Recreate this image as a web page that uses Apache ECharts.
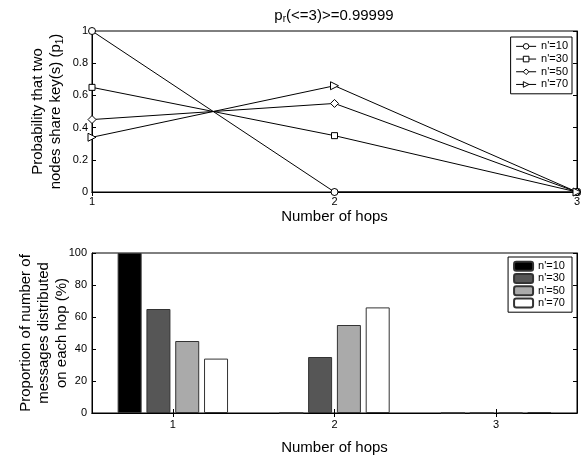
<!DOCTYPE html>
<html><head><meta charset="utf-8">
<script src="https://cdn.jsdelivr.net/npm/echarts@6/dist/echarts.min.js"></script>
<style>html,body{margin:0;padding:0;background:#fff}#c{width:587px;height:459px}</style>
</head><body><div id="c"></div>
<script>
const hops = [1, 2, 3];
const hopLabels = ['1', '2', '3'];
const seriesNames = ["n'=10", "n'=30", "n'=50", "n'=70"];
// top: probability p1
const p10 = [1.0, 0.0, 0.0];
const p30 = [0.65, 0.35, 0.0];
const p50 = [0.45, 0.55, 0.0];
const p70 = [0.34, 0.66, 0.0];
// bottom: proportion (%)
const q10 = [100, 0, 0];
const q30 = [65, 35, 0];
const q50 = [45, 55, 0];
const q70 = [34, 66, 0.5];

const FONT = 'Liberation Sans';
const chart = echarts.init(document.getElementById('c'), null, {renderer: 'canvas'});
const lineVals = [p10, p30, p50, p70];
const barVals = [q10, q30, q50, q70];
const symbols = ['circle', 'rect', 'diamond', 'triangle'];
const symRot = [0, 0, 0, -90];
const symSize = [7, 6, 8, 8];
const barColors = ['#000000', '#565656', '#aaaaaa', '#ffffff'];

const axisLineStyle = {show: true, lineStyle: {color: '#000', width: 1}};
const tickStyle = {show: true, inside: true, length: 4, lineStyle: {color: '#000'}};
const labelStyle = {color: '#000', fontFamily: FONT, fontSize: 11};
const subRich = {sub: {fontFamily: FONT, fontSize: 10, verticalAlign: 'bottom', padding: [7, 0, 0, 0]}};

const series = [];
lineVals.forEach((v, i) => {
  series.push({
    type: 'line', name: seriesNames[i], xAxisIndex: 0, yAxisIndex: 0,
    data: hops.map((h, j) => [h, v[j]]),
    symbol: symbols[i], symbolSize: symSize[i], symbolRotate: symRot[i],
    lineStyle: {color: '#000', width: 1},
    itemStyle: {color: '#fff', borderColor: '#000', borderWidth: 1},
    z: 3
  });
});
barVals.forEach((v, i) => {
  series.push({
    type: 'bar', name: seriesNames[i] + ' ', xAxisIndex: 2, yAxisIndex: 2,
    data: v, barWidth: 24, barGap: '20%',
    itemStyle: {color: barColors[i], borderColor: '#333', borderWidth: 1}
  });
});

chart.setOption({
  animation: false,
  backgroundColor: '#fff',
  title: {
    text: 'p{sub|r}(<=3)>=0.99999', left: 329, textAlign: 'center', top: 2,
    textStyle: {fontFamily: FONT, fontSize: 15, fontWeight: 'normal', color: '#000', rich: subRich}
  },
  grid: [
    {left: 92, right: 10, top: 31, height: 161, show: true, borderColor: '#000', borderWidth: 1, outerBoundsMode: 'none', containLabel: false},
    {left: 92, right: 10, top: 253, height: 160, show: true, borderColor: '#000', borderWidth: 1, outerBoundsMode: 'none', containLabel: false}
  ],
  legend: [
    {data: seriesNames, right: 15, top: 37, orient: 'vertical', itemGap: 0, itemWidth: 20, itemHeight: 7,
      borderColor: '#000', borderWidth: 1, padding: [3, 4, 3, 5], backgroundColor: '#fff',
      lineStyle: {width: 1, color: '#000'},
      itemStyle: {color: '#fff', borderColor: '#000', borderWidth: 1},
      textStyle: {fontFamily: FONT, fontSize: 11, color: '#000', lineHeight: 12.7}},
    {data: seriesNames.map(s => s + ' '), right: 15, top: 257, orient: 'vertical', itemGap: 0, itemWidth: 19, itemHeight: 9,
      borderColor: '#000', borderWidth: 1, padding: [3, 4, 3, 5], backgroundColor: '#fff',
      textStyle: {fontFamily: FONT, fontSize: 11, color: '#000', lineHeight: 12.3}}
  ],
  xAxis: [
    {type: 'value', gridIndex: 0, min: 1, max: 3, interval: 1, position: 'bottom',
      axisLine: axisLineStyle, axisTick: tickStyle, axisLabel: Object.assign({margin: 4, formatter: v => hopLabels[v - 1]}, labelStyle),
      splitLine: {show: false},
      name: 'Number of hops', nameLocation: 'middle', nameGap: 17, nameMoveOverlap: false,
      nameTextStyle: {fontFamily: FONT, fontSize: 15, color: '#000'}},
    {type: 'value', gridIndex: 0, min: 1, max: 3, interval: 1, position: 'top',
      axisLine: axisLineStyle, axisTick: tickStyle, axisLabel: {show: false}, splitLine: {show: false}},
    {type: 'category', gridIndex: 1, data: hopLabels, position: 'bottom',
      axisLine: axisLineStyle, axisTick: Object.assign({alignWithLabel: true}, tickStyle),
      axisLabel: Object.assign({margin: 6}, labelStyle),
      name: 'Number of hops', nameLocation: 'middle', nameGap: 27, nameMoveOverlap: false,
      nameTextStyle: {fontFamily: FONT, fontSize: 15, color: '#000'}},
    {type: 'category', gridIndex: 1, data: hopLabels, position: 'top',
      axisLine: axisLineStyle, axisTick: Object.assign({alignWithLabel: true}, tickStyle), axisLabel: {show: false}}
  ],
  yAxis: [
    {type: 'value', gridIndex: 0, min: 0, max: 1, interval: 0.2, position: 'left',
      axisLine: axisLineStyle, axisTick: tickStyle, axisLabel: Object.assign({margin: 4}, labelStyle),
      splitLine: {show: false},
      name: 'Probability that two\nnodes share key(s) (p{sub|1})', nameLocation: 'middle', nameGap: 27, nameRotate: 90, nameMoveOverlap: false,
      nameTextStyle: {fontFamily: FONT, fontSize: 15, color: '#000', lineHeight: 18, rich: subRich}},
    {type: 'value', gridIndex: 0, min: 0, max: 1, interval: 0.2, position: 'right',
      axisLine: axisLineStyle, axisTick: tickStyle, axisLabel: {show: false}, splitLine: {show: false}},
    {type: 'value', gridIndex: 1, min: 0, max: 100, interval: 20, position: 'left',
      axisLine: axisLineStyle, axisTick: tickStyle, axisLabel: Object.assign({margin: 5}, labelStyle),
      splitLine: {show: false},
      name: 'Proportion of number of\nmessages distributed\non each hop (%)', nameLocation: 'middle', nameGap: 21, nameRotate: 90, nameMoveOverlap: false,
      nameTextStyle: {fontFamily: FONT, fontSize: 15, color: '#000', lineHeight: 18}},
    {type: 'value', gridIndex: 1, min: 0, max: 100, interval: 20, position: 'right',
      axisLine: axisLineStyle, axisTick: tickStyle, axisLabel: {show: false}, splitLine: {show: false}}
  ],
  series: series
});
</script></body></html>
